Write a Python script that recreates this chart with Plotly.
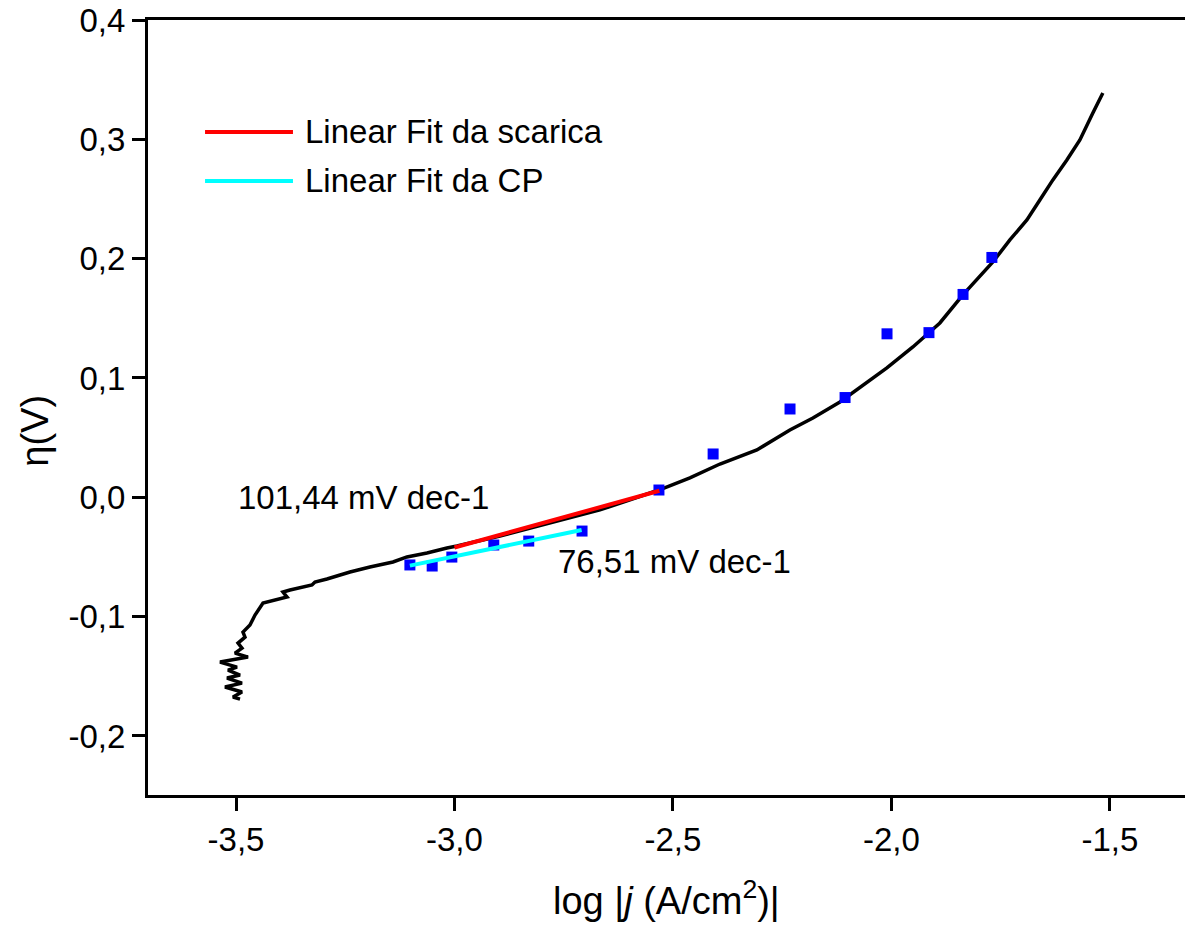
import plotly.graph_objects as go

# ---- data -------------------------------------------------------------
curve_x = [-3.4908, -3.5069, -3.4863, -3.5252, -3.4863, -3.5206, -3.4908, -3.5183,
           -3.4977, -3.5366, -3.4725, -3.5023, -3.4863, -3.4954, -3.4794, -3.4840,
           -3.4680, -3.4565, -3.4382, -3.4062, -3.3833, -3.3924, -3.3764, -3.3261,
           -3.3192, -3.2918, -3.2391, -3.1934, -3.1407, -3.1087, -3.0629, -3.0172,
           -2.9943, -2.8959, -2.7975, -2.6670, -2.5320, -2.4611, -2.3924, -2.3078,
           -2.2323, -2.1796, -2.1178, -2.0789, -2.0103, -1.9508, -1.8890, -1.8364,
           -1.7975, -1.7677, -1.7288, -1.6899, -1.6602, -1.6304, -1.5984, -1.5686,
           -1.5389, -1.5160]
curve_y = [-0.1691, -0.1674, -0.1632, -0.1590, -0.1557, -0.1515, -0.1490, -0.1448,
           -0.1423, -0.1381, -0.1339, -0.1306, -0.1264, -0.1222, -0.1172, -0.1130,
           -0.1071, -0.0987, -0.0886, -0.0861, -0.0836, -0.0794, -0.0777, -0.0735,
           -0.0710, -0.0685, -0.0626, -0.0584, -0.0542, -0.0500, -0.0467, -0.0425,
           -0.0408, -0.0324, -0.0232, -0.0106, 0.0061, 0.0162, 0.0279, 0.0397,
           0.0564, 0.0665, 0.0799, 0.0899, 0.1084, 0.1260, 0.1461, 0.1696,
           0.1847, 0.1972, 0.2157, 0.2324, 0.2492, 0.2660, 0.2827, 0.2995,
           0.3221, 0.3389]

points_x = [-3.102, -3.051, -3.006, -2.910, -2.830, -2.708, -2.532,
            -2.408, -2.232, -2.106, -2.010, -1.914, -1.836, -1.770]
points_y = [-0.0567, -0.0576, -0.0501, -0.0400, -0.0367, -0.0283, 0.0061,
            0.0363, 0.0740, 0.0836, 0.1370, 0.1380, 0.1700, 0.2010]

fit_scarica_x = [-3.000, -2.531]
fit_scarica_y = [-0.0421, 0.0055]
fit_cp_x = [-3.102, -2.709]
fit_cp_y = [-0.0573, -0.0274]

x_tickvals = [-3.5, -3.0, -2.5, -2.0, -1.5]
x_ticktext = ["-3,5", "-3,0", "-2,5", "-2,0", "-1,5"]
y_tickvals = [-0.2, -0.1, 0.0, 0.1, 0.2, 0.3, 0.4]
y_ticktext = ["-0,2", "-0,1", "0,0", "0,1", "0,2", "0,3", "0,4"]

legend_labels = ["Linear Fit da scarica", "Linear Fit da CP"]
slope_labels = ["101,44 mV dec-1", "76,51 mV dec-1"]

FONT = "Liberation Sans, Arial, sans-serif"
FS = 33
FT = 38

fig = go.Figure()
fig.add_trace(go.Scatter(x=curve_x, y=curve_y, mode="lines",
                         line=dict(color="black", width=3.5), showlegend=False))
fig.add_trace(go.Scatter(x=points_x, y=points_y, mode="markers",
                         marker=dict(symbol="square", size=11, color="#0000FF"),
                         showlegend=False))
fig.add_trace(go.Scatter(x=fit_scarica_x, y=fit_scarica_y, mode="lines",
                         line=dict(color="#FF0000", width=4), showlegend=False))
fig.add_trace(go.Scatter(x=fit_cp_x, y=fit_cp_y, mode="lines",
                         line=dict(color="#00FFFF", width=4), showlegend=False))

# manual legend
legend_colors = ["#FF0000", "#00FFFF"]
legend_rows = [0.8555, 0.7923]
for lab, col, yy in zip(legend_labels, legend_colors, legend_rows):
    fig.add_shape(type="line", xref="paper", yref="paper",
                  x0=0.055, x1=0.1398, y0=yy, y1=yy,
                  line=dict(color=col, width=4))
    fig.add_annotation(xref="paper", yref="paper", x=0.1495, y=yy,
                       text=lab, showarrow=False, xanchor="left", yanchor="middle",
                       font=dict(family=FONT, size=FS, color="black"))

fig.add_annotation(x=-3.5, y=0.0, text=slope_labels[0], showarrow=False,
                   xanchor="left", yanchor="middle",
                   font=dict(family=FONT, size=FS, color="black"))
fig.add_annotation(x=-2.768, y=-0.054, text=slope_labels[1], showarrow=False,
                   xanchor="left", yanchor="middle",
                   font=dict(family=FONT, size=FS, color="black"))

# axis titles
fig.add_annotation(xref="paper", yref="paper", x=0.5, y=-0.133,
                   text="log |<i>j</i> (A/cm<sup>2</sup>)|", showarrow=False,
                   xanchor="center", yanchor="middle",
                   font=dict(family=FONT, size=FT, color="black"))
fig.add_annotation(xref="paper", yref="paper", x=-0.109, y=0.47,
                   text="η(V)", showarrow=False, textangle=-90,
                   xanchor="center", yanchor="middle",
                   font=dict(family=FONT, size=FT, color="black"))

fig.update_layout(
    width=1185, height=925,
    margin=dict(l=148, r=0, t=20, b=130),
    paper_bgcolor="white", plot_bgcolor="white",
    font=dict(family=FONT, size=FS, color="black"),
    showlegend=False,
)
fig.update_xaxes(range=[-3.7014, -1.328], tickmode="array",
                 tickvals=x_tickvals, ticktext=x_ticktext,
                 showline=True, linecolor="black", linewidth=3, mirror=True,
                 ticks="outside", ticklen=13, tickwidth=3, tickcolor="black",
                 showgrid=False, zeroline=False,
                 tickfont=dict(family=FONT, size=FS, color="black"))
fig.update_yaxes(range=[-0.2495, 0.4], tickmode="array",
                 tickvals=y_tickvals, ticktext=y_ticktext,
                 showline=True, linecolor="black", linewidth=3, mirror=False,
                 ticks="outside", ticklen=13, tickwidth=3, tickcolor="black",
                 showgrid=False, zeroline=False,
                 tickfont=dict(family=FONT, size=FS, color="black"))

fig.write_html("out.html")
